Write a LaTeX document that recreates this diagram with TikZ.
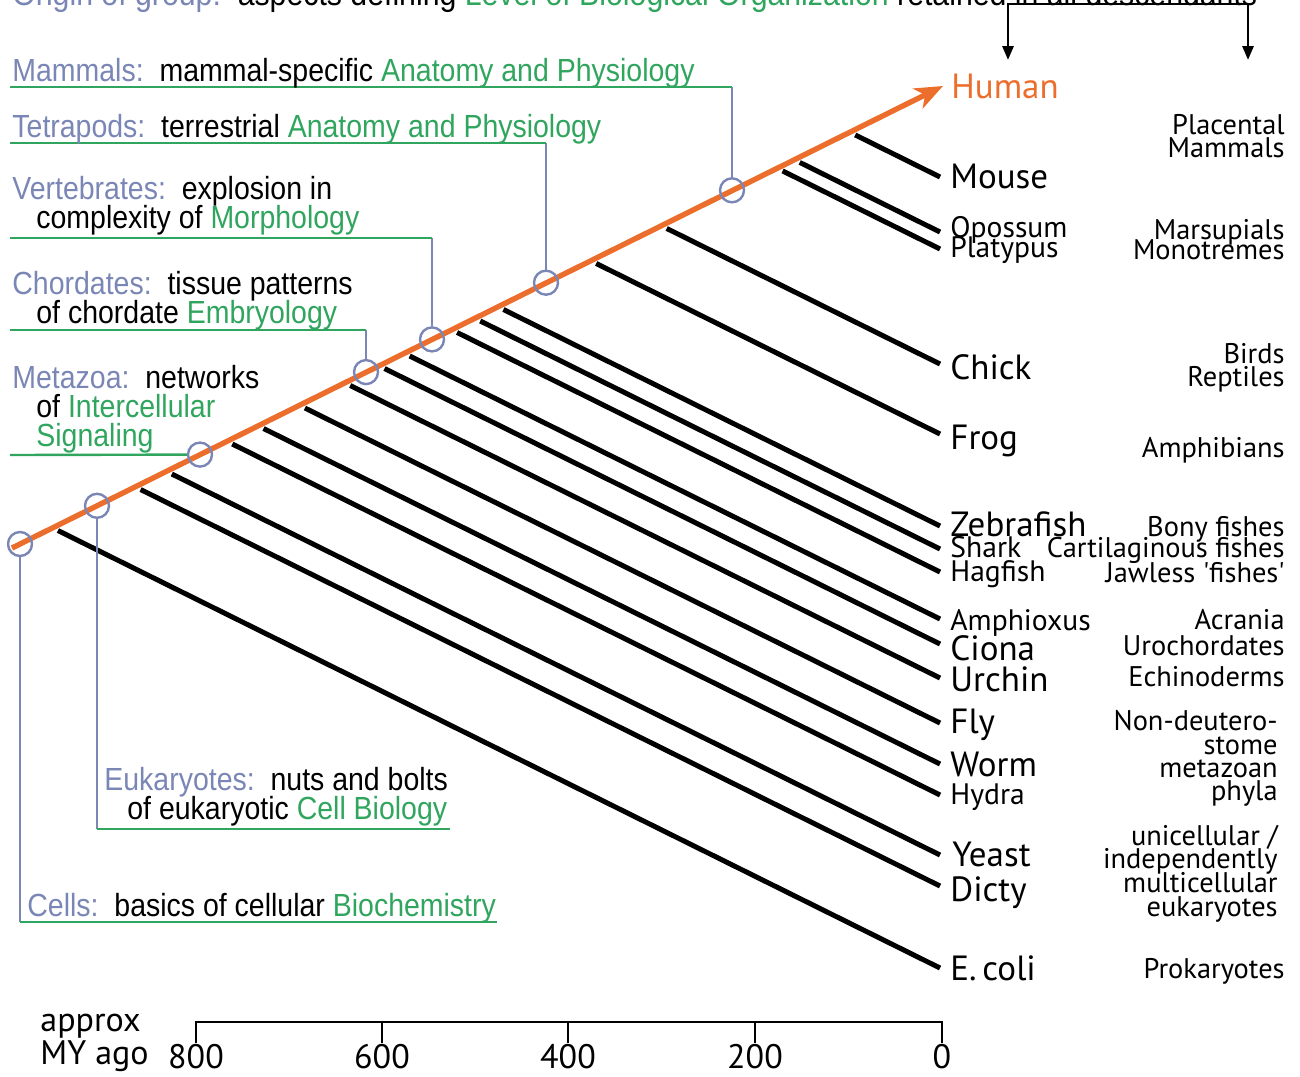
\documentclass[tikz,border=0pt]{standalone}
\usepackage{fontspec}
\setmainfont{PT Sans}
\newfontfamily\narrowfont[FakeStretch=0.89]{Liberation Sans}
\usetikzlibrary{arrows.meta,calc}
\definecolor{tblue}{HTML}{7A86B5}
\definecolor{tgreen}{HTML}{30A55E}
\definecolor{torange}{HTML}{EC6E2C}
\newcommand\kb[1]{\textcolor{tblue}{#1}}
\newcommand\kg[1]{\textcolor{tgreen}{#1}}
\begin{document}
\begin{tikzpicture}[x=0.5pt,y=-0.5pt,
  ann/.style={anchor=base west,inner sep=0pt,font=\narrowfont\fontsize{16}{16}\selectfont},
  titlestyle/.style={anchor=base west,inner sep=0pt,font=\narrowfont\fontsize{17}{17}\selectfont},
  spbig/.style={anchor=base west,inner sep=0pt,font=\fontsize{17.5}{18}\selectfont},
  spsmall/.style={anchor=base west,inner sep=0pt,font=\fontsize{14.8}{15}\selectfont},
  grp/.style={anchor=base east,inner sep=0pt,font=\fontsize{14.2}{15}\selectfont},
  axlab/.style={anchor=base,inner sep=0pt,font=\fontsize{17}{17}\selectfont},
  axname/.style={anchor=base west,inner sep=0pt,font=\fontsize{17}{17}\selectfont},
  trunk/.style={torange,line width=2.7pt,-{Stealth[length=14pt,width=11pt,inset=4pt]}},
  branch/.style={black,line width=2.5pt,shorten <=3pt},
  ring/.style={circle,draw=tblue,line width=1.2pt,minimum size=12pt,inner sep=0pt},
  gline/.style={tgreen,line width=1.2pt},
  bline/.style={tblue,line width=1.2pt},
  axisline/.style={black,line width=1.4pt},
  bracket/.style={black,line width=1.4pt,{Triangle[length=7pt,width=5.5pt]}-{Triangle[length=7pt,width=5.5pt]}}
]
\useasboundingbox (0,0) rectangle (1300,1076);
\clip (0,0) rectangle (1300,1076);

% cut-off title line
\node[titlestyle] (title) at (12,5) {\kb{Origin of group:}\ \ aspects defining \kg{Level of Biological Organization} retained in all descendants};

% bracket at top right
\coordinate (bla) at (1008,60);
\coordinate (bl) at (1008,4);
\coordinate (br) at (1248,4);
\coordinate (bra) at (1248,60);
\draw[bracket] (bla) -- (bl) -- (br) -- (bra);

% trunk
\coordinate (o1) at (12,548);
\coordinate (o2) at (943,86);
\draw[trunk] (o1) -- (o2);

% branches
\foreach \n/\ye in {Mouse/177,Opossum/232,Platypus/249,Chick/364,Frog/434,Zebrafish/526,Shark/549,Hagfish/572,Amphioxus/619,Ciona/644,Urchin/678,Fly/723,Worm/764,Hydra/795,Yeast/855,Dicty/886,Ecoli/968}{
  \coordinate (e\n) at (940,\ye);
  \coordinate (f\n) at (840,\ye-49.6);
  \coordinate (s\n) at (intersection of o1--o2 and e\n--f\n);
  \draw[branch] (s\n) -- (e\n);
}

% species labels
\node[spbig] (lHuman) at (951,98) {\textcolor{torange}{Human}};
\node[spbig] (lMouse) at (950,188) {Mouse};
\node[spsmall] (lOpossum) at (950,237) {Opossum};
\node[spsmall] (lPlatypus) at (950,257) {Platypus};
\node[spbig] (lChick) at (950,379) {Chick};
\node[spbig] (lFrog) at (950,449) {Frog};
\node[spbig] (lZebrafish) at (950,536) {Zebrafish};
\node[spsmall] (lShark) at (950,557) {Shark};
\node[spsmall] (lHagfish) at (950,581) {Hagfish};
\node[spsmall] (lAmphioxus) at (950,630) {Amphioxus};
\node[spbig] (lCiona) at (950,660) {Ciona};
\node[spbig] (lUrchin) at (950,691) {Urchin};
\node[spbig] (lFly) at (950,733) {Fly};
\node[spbig] (lWorm) at (950,776) {Worm};
\node[spsmall] (lHydra) at (950,804) {Hydra};
\node[spbig] (lYeast) at (952,866) {Yeast};
\node[spbig] (lDicty) at (950,901) {Dicty};
\node[spbig] (lEcoli) at (950,980) {E.\,coli};

% group labels
\node[grp] (gPlac1) at (1285,134) {Placental};
\node[grp] (gPlac2) at (1285,157) {Mammals};
\node[grp] (gMars) at (1285,239) {Marsupials};
\node[grp] (gMono) at (1285,259) {Monotremes};
\node[grp] (gBirds) at (1285,363) {Birds};
\node[grp] (gRept) at (1285,386) {Reptiles};
\node[grp] (gAmph) at (1285,457) {Amphibians};
\node[grp] (gBony) at (1285,536) {Bony fishes};
\node[grp] (gCart) at (1285,557) {Cartilaginous fishes};
\node[grp] (gJaw) at (1285,582) {Jawless \textquotesingle fishes\textquotesingle};
\node[grp] (gAcr) at (1285,629) {Acrania};
\node[grp] (gUro) at (1285,655) {Urochordates};
\node[grp] (gEch) at (1285,686) {Echinoderms};
\node[grp] (gNon1) at (1278,730) {Non-deutero-};
\node[grp] (gNon2) at (1278,754) {stome};
\node[grp] (gNon3) at (1278,777) {metazoan};
\node[grp] (gNon4) at (1278,800) {phyla};
\node[grp] (gUni1) at (1278,845) {unicellular /};
\node[grp] (gUni2) at (1278,868) {independently};
\node[grp] (gUni3) at (1278,892) {multicellular};
\node[grp] (gUni4) at (1278,916) {eukaryotes};
\node[grp] (gProk) at (1285,978) {Prokaryotes};

% rings on the trunk
\node[ring] (cCells) at (20,544) {};
\node[ring] (cEuk) at (97,505.8) {};
\node[ring] (cMeta) at (200,454.6) {};
\node[ring] (cChord) at (366,372.1) {};
\node[ring] (cVert) at (432,339.4) {};
\node[ring] (cTetra) at (546,282.7) {};
\node[ring] (cMamm) at (732,190.3) {};

% connectors to annotations
\coordinate (gMamL) at (10,87);   \coordinate (gMamR) at (732,87);
\coordinate (gTetL) at (10,143);  \coordinate (gTetR) at (546,143);
\coordinate (gVerL) at (10,238);  \coordinate (gVerR) at (432,238);
\coordinate (gChoL) at (10,330);  \coordinate (gChoR) at (366,330);
\coordinate (gMetL) at (10,455);
\coordinate (gEukL) at (97,829);  \coordinate (gEukR) at (450,829);
\coordinate (gCelL) at (20,922);  \coordinate (gCelR) at (497,922);
\draw[bline] (gMamR) -- (cMamm.north);
\draw[bline] (gTetR) -- (cTetra.north);
\draw[bline] (gVerR) -- (cVert.north);
\draw[bline] (gChoR) -- (cChord.north);
\draw[bline] (cEuk.south) -- (gEukL);
\draw[bline] (cCells.south) -- (gCelL);
\draw[gline] (gMamL) -- (gMamR);
\draw[gline] (gTetL) -- (gTetR);
\draw[gline] (gVerL) -- (gVerR);
\draw[gline] (gChoL) -- (gChoR);
\draw[gline] (gMetL) -- (cMeta.west);
\draw[gline] (gEukL) -- (gEukR);
\draw[gline] (gCelL) -- (gCelR);

% annotation texts
\node[ann] (tMamm) at (12,81) {\kb{Mammals:}\ \ mammal-specific \kg{Anatomy and Physiology}};
\node[ann] (tTetra) at (12,137) {\kb{Tetrapods:}\ \ terrestrial \kg{Anatomy and Physiology}};
\node[ann] (tVert1) at (12,199) {\kb{Vertebrates:}\ \ explosion in};
\node[ann] (tVert2) at (36,228) {complexity of \kg{Morphology}};
\node[ann] (tChord1) at (12,294) {\kb{Chordates:}\ \ tissue patterns};
\node[ann] (tChord2) at (36,323) {of chordate \kg{Embryology}};
\node[ann] (tMeta1) at (12,388) {\kb{Metazoa:}\ \ networks};
\node[ann] (tMeta2) at (36,417) {of \kg{Intercellular}};
\node[ann] (tMeta3) at (36,446) {\kg{Signaling}};
\node[ann] (tEuk1) at (104,790) {\kb{Eukaryotes:}\ \ nuts and bolts};
\node[ann] (tEuk2) at (127,819) {of eukaryotic \kg{Cell Biology}};
\node[ann] (tCells) at (27,916) {\kb{Cells:}\ \ basics of cellular \kg{Biochemistry}};

% time axis
\coordinate (a800) at (196,1022);
\coordinate (a600) at (382,1022);
\coordinate (a400) at (568,1022);
\coordinate (a200) at (755,1022);
\coordinate (a0) at (942,1022);
\draw[axisline] ($(a800)+(0,21)$) -- (a800) -- (a0) -- ($(a0)+(0,21)$);
\foreach \t in {600,400,200}{\draw[axisline] (a\t) -- ($(a\t)+(0,21)$);}
\node[axlab] (n800) at (196,1068) {800};
\node[axlab] (n600) at (382,1068) {600};
\node[axlab] (n400) at (568,1068) {400};
\node[axlab] (n200) at (755,1068) {200};
\node[axlab] (n0) at (942,1068) {0};
\node[axname] (approx) at (40,1031) {approx};
\node[axname] (myago) at (40,1064) {MY ago};
\end{tikzpicture}
\end{document}
